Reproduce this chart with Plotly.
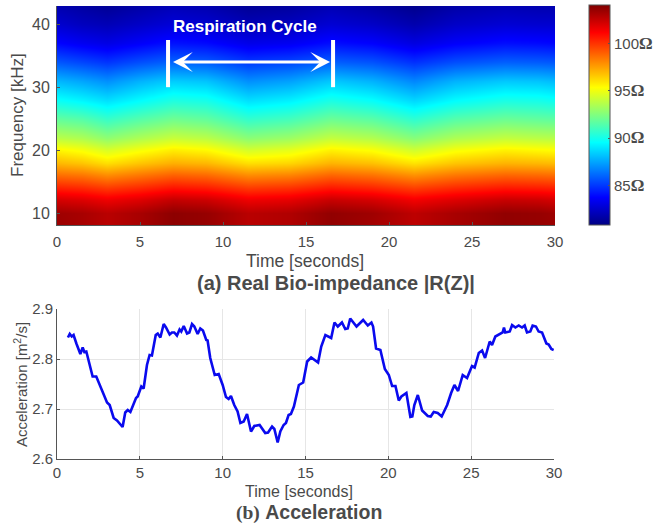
import plotly.graph_objects as go

W, H = 657, 525

# ---- heatmap data
times = [0, 1.5, 3, 5, 7, 9, 11.5, 14, 16.5, 19, 21.5, 24, 27, 29, 30]
freqs = [8, 10, 12, 14, 16, 18, 20, 22, 25, 28, 31, 34, 37, 40, 43]
z_f8 = [103.5,103.2,102.8,103.2,103.8,103.6,102.8,103.0,103.7,103.3,102.7,103.2,103.7,103.6,103.5]
z_f10 = [103.4,103.2,102.8,103.2,103.8,103.6,102.8,103.0,103.7,103.4,102.7,103.2,103.7,103.6,103.4]
z_f12 = [102.2,102.0,101.6,102.0,102.6,102.4,101.6,101.8,102.5,102.2,101.5,102.0,102.5,102.4,102.2]
z_f14 = [100.5,100.3,99.9,100.3,100.8,100.6,99.9,100.1,100.7,100.4,99.8,100.3,100.7,100.6,100.5]
z_f16 = [98.7,98.5,98.0,98.5,99.0,98.8,98.0,98.2,98.9,98.6,97.9,98.5,98.9,98.8,98.7]
z_f18 = [97.0,96.7,96.1,96.7,97.2,97.0,96.1,96.3,97.1,96.8,96.0,96.7,97.1,97.0,96.9]
z_f20 = [95.6,95.2,94.5,95.2,95.8,95.5,94.4,94.8,95.7,95.3,94.3,95.2,95.7,95.5,95.4]
z_f22 = [93.8,93.5,92.8,93.5,94.1,93.8,92.7,93.1,94.0,93.6,92.6,93.5,94.0,93.8,93.7]
z_f25 = [91.8,91.5,90.8,91.5,92.1,91.8,90.7,91.1,92.0,91.6,90.6,91.5,92.0,91.8,91.7]
z_f28 = [89.7,89.3,88.8,89.5,90.2,90.0,88.8,89.2,90.1,89.6,88.6,89.5,90.1,90.0,89.8]
z_f31 = [87.9,87.5,87.0,87.8,88.4,88.2,87.0,87.4,88.3,87.8,86.8,87.8,88.3,88.2,88.0]
z_f34 = [85.7,85.3,84.9,85.5,86.0,85.8,85.0,85.3,85.9,85.6,84.8,85.5,85.9,85.8,85.7]
z_f37 = [83.8,83.4,83.1,83.6,84.1,83.9,83.2,83.4,84.0,83.7,83.0,83.6,84.0,83.9,83.8]
z_f40 = [82.6,82.2,82.0,82.4,82.8,82.6,82.0,82.2,82.7,82.4,81.8,82.4,82.7,82.6,82.6]
z_f43 = [81.8,81.5,81.2,81.6,82.0,81.8,81.2,81.4,81.9,81.5,81.0,81.6,81.9,81.8,81.8]
z_rows = [z_f8, z_f10, z_f12, z_f14, z_f16, z_f18, z_f20, z_f22, z_f25, z_f28,
          z_f31, z_f34, z_f37, z_f40, z_f43]

cbar_vals = [85, 90, 95, 100]
cbar_text = ['85<b style="font-family:Liberation Serif;font-size:17px">Ω</b>',
             '90<b style="font-family:Liberation Serif;font-size:17px">Ω</b>',
             '95<b style="font-family:Liberation Serif;font-size:17px">Ω</b>',
             '100<b style="font-family:Liberation Serif;font-size:17px">Ω</b>']

# ---- acceleration trace
acc_t = [.66,.77,.89,1.0,1.17,1.41,1.55,1.65,1.77,1.97,2.15,2.37,2.58,2.82,3.02,3.18,3.42,3.62,3.96,4.12,
         4.27,4.43,4.77,4.87,5.09,5.23,5.43,5.59,5.73,5.96,6.08,6.24,6.44,6.58,6.8,6.94,7.08,7.24,7.4,7.5,
         7.65,7.85,7.99,8.15,8.29,8.49,8.65,8.81,9.01,9.09,9.25,9.52,9.76,10,10.2,10.36,10.5,10.7,10.9,11.07,
         11.27,11.47,11.71,11.91,12.23,12.57,12.74,12.98,13.12,13.32,13.48,13.68,13.82,13.98,14.12,14.3,14.6,14.86,15.1,15.34,
         15.76,15.95,16.2,16.55,16.75,16.95,17.2,17.4,17.55,17.7,17.88,18.08,18.48,18.76,18.98,19.08,19.26,19.52,19.79,20.03,
         20.23,20.43,20.63,20.79,21.09,21.23,21.33,21.45,21.57,21.78,22.04,22.38,22.56,22.74,22.98,23.22,23.55,23.79,23.99,24.21,
         24.49,24.75,25.05,25.21,25.46,25.66,25.84,26.12,26.26,26.46,26.66,26.9,26.98,27.06,27.33,27.47,27.67,27.87,28.07,28.23,
         28.37,28.57,28.71,28.91,29.07,29.28,29.54,29.68,29.84,29.98]
acc_v = [2.843,2.85,2.845,2.848,2.831,2.81,2.823,2.814,2.815,2.788,2.765,2.765,2.748,2.732,2.713,2.708,2.682,2.677,2.664,2.693,
         2.698,2.694,2.722,2.725,2.745,2.741,2.788,2.808,2.807,2.848,2.851,2.843,2.87,2.863,2.849,2.853,2.853,2.847,2.859,2.855,
         2.866,2.851,2.853,2.87,2.865,2.85,2.861,2.857,2.838,2.837,2.802,2.768,2.77,2.748,2.724,2.72,2.726,2.708,2.695,2.672,
         2.675,2.69,2.655,2.666,2.668,2.652,2.653,2.665,2.66,2.633,2.655,2.668,2.672,2.688,2.69,2.705,2.748,2.753,2.795,2.803,
         2.793,2.825,2.848,2.842,2.873,2.865,2.873,2.86,2.861,2.881,2.873,2.865,2.878,2.867,2.873,2.865,2.821,2.818,2.78,2.768,
         2.746,2.746,2.717,2.725,2.732,2.708,2.684,2.685,2.708,2.728,2.697,2.686,2.685,2.694,2.692,2.685,2.708,2.732,2.748,2.736,
         2.768,2.762,2.786,2.783,2.812,2.817,2.802,2.835,2.828,2.845,2.848,2.853,2.863,2.853,2.855,2.868,2.863,2.867,2.863,2.867,
         2.853,2.855,2.867,2.865,2.855,2.853,2.831,2.829,2.82,2.818]

GREY = "#4a4a4a"
FONT = "Liberation Sans"

def px(x): return x / W
def py(y): return 1 - y / H

jet = [[0, "rgb(0,0,131)"], [0.125, "rgb(0,0,255)"], [0.375, "rgb(0,255,255)"],
       [0.625, "rgb(255,255,0)"], [0.875, "rgb(255,0,0)"], [1, "rgb(128,0,0)"]]

fig = go.Figure()
fig.add_trace(go.Heatmap(
    x=times, y=freqs, z=z_rows, zsmooth="best", colorscale=jet, zmin=80.8, zmax=104.1,
    xaxis="x", yaxis="y", hoverinfo="skip",
    colorbar=dict(x=px(589), xanchor="left", xpad=0, ypad=0, y=py(225), yanchor="bottom",
                  len=220 / H, lenmode="fraction", thickness=21, outlinecolor="#555", outlinewidth=1,
                  tickvals=cbar_vals, ticktext=cbar_text, ticks="inside", ticklen=2, tickcolor="#555",
                  tickfont=dict(family=FONT, size=15, color=GREY)),
))
fig.add_trace(go.Scatter(x=acc_t, y=acc_v, mode="lines", xaxis="x2", yaxis="y2", hoverinfo="skip",
                         line=dict(color="#0a0aee", width=2.6), showlegend=False))

axis_common = dict(showline=True, linecolor="#555", linewidth=1, ticks="inside", ticklen=3,
                   tickcolor="#555", zeroline=False)
def tf(size): return dict(family=FONT, color=GREY, size=size)
fig.update_layout(
    width=W, height=H, margin=dict(l=0, r=0, t=0, b=0, autoexpand=False), paper_bgcolor="white", plot_bgcolor="white",
    font=dict(family=FONT, color=GREY), showlegend=False,
    xaxis=dict(domain=[px(57), px(555)], range=[0, 30], tick0=0, dtick=5, showgrid=False,
               anchor="y", tickfont=tf(15), ticklabelstandoff=3, **axis_common),
    yaxis=dict(domain=[py(225), py(6)], range=[8.1, 42.9], tickvals=[10, 20, 30, 40], showgrid=False,
               anchor="x", tickfont=tf(16), ticklabelstandoff=3, **axis_common),
    xaxis2=dict(domain=[px(57), px(554)], range=[0, 30], tick0=0, dtick=5, showgrid=True,
                gridcolor="#e6e6e6", anchor="y2", tickfont=tf(15), **axis_common),
    yaxis2=dict(domain=[py(459), py(309)], range=[2.6, 2.9], dtick=0.1, tickformat=".1f", showgrid=True,
                gridcolor="#e6e6e6", anchor="x2", tickfont=tf(15), **axis_common),
)

# respiration-cycle markers in data coordinates
for t in (6.69, 16.63):
    fig.add_shape(type="line", xref="x", yref="y", x0=t, x1=t, y0=30, y1=37.5,
                  line=dict(color="white", width=4))

def label(text, x, y, size, angle=0, color=GREY):
    fig.add_annotation(text=text, xref="paper", yref="paper", x=px(x), y=py(y), showarrow=False,
                       textangle=angle, xanchor="center", yanchor="middle",
                       font=dict(family=FONT, size=size, color=color))

fig.add_annotation(x=16.45, y=34, ax=6.9, ay=34, xref="x", yref="y", axref="x", ayref="y", text="",
                   showarrow=True, arrowside="end+start", arrowhead=3, arrowsize=1.1, arrowwidth=3,
                   arrowcolor="white")
fig.add_annotation(text="<b>Respiration Cycle</b>", x=11.3, y=39.6, xref="x", yref="y", showarrow=False,
                   font=dict(family=FONT, size=17, color="white"))

label("Time [seconds]", 305, 261, 17.5)
label("Frequency [kHz]", 17, 115, 17, -90)
label("<b>(a) Real Bio-impedance |R(Z)|</b>", 336, 283, 20)
label("Time [seconds]", 299, 491, 16)
label("Acceleration [m<sup>2</sup>/s]", 20, 385, 15, -90)
label('<b style="font-family:Liberation Serif">(b)</b> <b>Acceleration</b>', 309, 512, 19.5)

fig.write_html("out.html", post_script="document.body.style.margin='0';",
               config=dict(displayModeBar=False))
